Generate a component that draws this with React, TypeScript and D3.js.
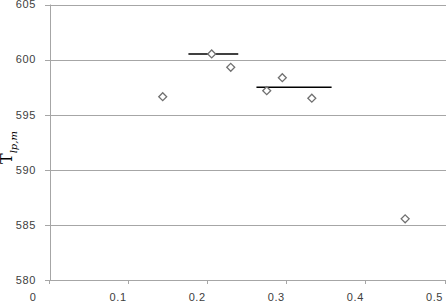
import React from "react";
import * as d3 from "d3";

const W = 446;
const H = 304;

const pointX = [0.1425, 0.2044, 0.2285, 0.274, 0.2937, 0.331, 0.449];
const pointY = [596.63, 600.51, 599.3, 597.18, 598.36, 596.5, 585.55];

const segX1 = [0.175, 0.261];
const segX2 = [0.238, 0.356];
const segY = [600.5, 597.5];

const xTicks = [0, 0.1, 0.2, 0.3, 0.4, 0.5];
const xTickLabels = ["0", "0.1", "0.2", "0.3", "0.4", "0.5"];
const yTicks = [580, 585, 590, 595, 600, 605];
const yTickLabels = ["580", "585", "590", "595", "600", "605"];

export default function App() {
  const margin = { left: 50, right: 0.5, top: 4.5, bottom: 24 };
  const x = d3.scaleLinear().domain([0, 0.5]).range([margin.left, W - margin.right]);
  const y = d3.scaleLinear().domain([580, 605]).range([H - margin.bottom, margin.top]);
  const grid = "#a6a6a6";
  const font = "'Liberation Sans', Arial, sans-serif";
  const diamond = d3.symbol().type(d3.symbolDiamond2).size(40)();
  return (
    <svg width={W} height={H} style={{ position: "absolute", left: 0, top: 0 }} xmlns="http://www.w3.org/2000/svg">
      <rect width={W} height={H} fill="#fff" />
      {yTicks.map((t, i) => (
        <g key={"y" + i}>
          <line x1={x(0) - 5} x2={W} y1={Math.round(y(t)) + 0.5} y2={Math.round(y(t)) + 0.5} stroke={grid} strokeWidth={1} />
          <text x={36} y={y(t)} dy="0.35em" textAnchor="end" fontFamily={font} fontSize={11} fill="#404040" letterSpacing={0.6}>
            {yTickLabels[i]}
          </text>
        </g>
      ))}
      <line x1={x(0) + 0.5} x2={x(0) + 0.5} y1={y(605)} y2={y(580)} stroke={grid} strokeWidth={1} />
      {xTicks.map((t, i) => (
        <g key={"x" + i}>
          <line x1={Math.round(x(t)) - 0.5} x2={Math.round(x(t)) - 0.5} y1={y(580)} y2={y(580) + 4} stroke={grid} strokeWidth={1} />
          <text x={x(t) - (i === 0 ? 17 : 11)} y={301} textAnchor="middle" fontFamily={font} fontSize={11} fill="#404040" letterSpacing={0.6}>
            {xTickLabels[i]}
          </text>
        </g>
      ))}
      {segY.map((v, i) => (
        <line key={"s" + i} x1={x(segX1[i])} x2={x(segX2[i])} y1={y(v)} y2={y(v)} stroke="#000" strokeWidth={1.5} />
      ))}
      {pointX.map((v, i) => (
        <path key={"p" + i} d={diamond} transform={`translate(${x(v)},${y(pointY[i])})`} fill="#fff" stroke="#707070" strokeWidth={1.3} />
      ))}
      <text transform={`translate(12,164) rotate(-90)`} fontFamily="'DejaVu Serif', 'Liberation Serif', serif" fill="#000">
        <tspan fontSize={16}>T</tspan>
        <tspan fontSize={10} fontStyle="italic" dy={5}>lp,m</tspan>
      </text>
    </svg>
  );
}
